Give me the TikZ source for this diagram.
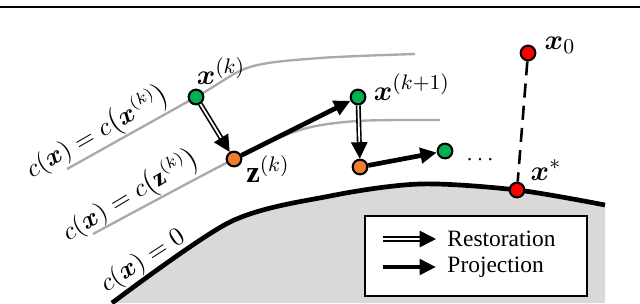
\documentclass[tikz,border=0pt]{standalone}
\usepackage{amsmath}
\usepackage{fontspec}
\setmainfont{Liberation Serif}
\usetikzlibrary{arrows.meta}
\definecolor{dotgreen}{RGB}{0,176,80}
\definecolor{dotorange}{RGB}{237,125,49}
\definecolor{dotred}{RGB}{255,0,0}
\definecolor{levelgray}{RGB}{170,170,170}
\definecolor{feasgray}{RGB}{217,217,217}
\tikzset{
  iter dot/.style={
    circle, draw=black, line width=0.9pt, inner sep=0pt, minimum size=2.2mm
  },
  green dot/.style={iter dot, fill=dotgreen},
  orange dot/.style={iter dot, fill=dotorange},
  red dot/.style={iter dot, fill=dotred},
  restoration/.style={
    draw=black, line width=0.7pt, double=white, double distance=0.75pt,
    -{Triangle[length=7pt,width=7pt]}
  },
  projection/.style={
    draw=black, line width=2pt, -{Triangle[length=7pt,width=6.5pt]}
  },
  level line/.style={draw=levelgray, line width=1pt},
  boundary/.style={draw=black, line width=2pt},
  dash link/.style={draw=black, line width=1.1pt, dash pattern=on 6pt off 3.5pt},
  point label/.style={font=\fontsize{13}{15}\selectfont, inner sep=1pt},
  level label/.style={font=\fontsize{10.5}{12}\selectfont, inner sep=0pt}
}

\begin{document}
\begin{tikzpicture}[x=0.15mm, y=-0.15mm]
  \useasboundingbox (0,0) rectangle (640,303);
  % header rule
  \draw[line width=1.1pt] (0,7) -- (640,7);

  % ------------------------------------------------
  % feasible set c(x) <= 0 and level lines
  % ------------------------------------------------
  \fill[feasgray] plot[smooth] coordinates {(112,303) (230,222) (330,196) (420,184) (517,190) (605,205)}
    -- (605,303) -- cycle;
  \draw[boundary] plot[smooth] coordinates {(112,303) (230,222) (330,196) (420,184) (517,190) (605,205)};
  \draw[level line] plot[smooth] coordinates {(67,169) (196,97) (250,67) (320,58) (415,54)};
  \draw[level line] plot[smooth] coordinates {(93,234) (234,159) (300,130) (357,121) (440,120)};

  \node[level label, rotate=30] (lvlXk) at (98,133) {$c(\boldsymbol{x}) = c\bigl(\boldsymbol{x}^{(k)}\bigr)$};
  \node[level label, rotate=31] (lvlZk) at (131,196) {$c(\boldsymbol{x}) = c\bigl(\mathbf{z}^{(k)}\bigr)$};
  \node[level label, rotate=33] (lvlZero) at (143,261) {$c(\boldsymbol{x}) = 0$};

  % ------------------------------------------------
  % iterates
  % ------------------------------------------------
  \node[red dot]    (x0)  at (528,53)  {};
  \node[red dot]    (xs)  at (517,190) {};
  \draw[dash link] (x0) -- (xs);

  \node[green dot]  (xk)  at (196,97)  {};
  \node[orange dot] (zk)  at (234,159) {};
  \node[green dot]  (xk1) at (358,97)  {};
  \node[orange dot] (zk1) at (360,167) {};
  \node[green dot]  (xk2) at (445,151) {};

  \draw[restoration] (xk)  -- (zk);
  \draw[projection]  (zk)  -- (xk1);
  \draw[restoration] (xk1) -- (zk1);
  \draw[projection]  (zk1) -- (xk2);

  \node[point label] (xkLab)  at (221,71)  {$\boldsymbol{x}^{(k)}$};
  \node[point label] (zkLab)  at (268,169) {$\mathbf{z}^{(k)}$};
  \node[point label] (xk1Lab) at (412,87)  {$\boldsymbol{x}^{(k+1)}$};
  \node[point label] (x0Lab)  at (560,45)  {$\boldsymbol{x}_0$};
  \node[point label] (xsLab)  at (546,170) {$\boldsymbol{x}^{*}$};
  \node (dots) at (482,160) {$\cdots$};

  % ------------------------------------------------
  % legend
  % ------------------------------------------------
  \node[draw=black, line width=1pt, fill=white, minimum width=3.33cm, minimum height=1.2cm] (legend) at (476,256) {};
  \coordinate (restA) at (383,239);
  \coordinate (restB) at (436,239);
  \coordinate (projA) at (383,267);
  \coordinate (projB) at (436,267);
  \draw[restoration] (restA) -- (restB);
  \draw[projection]  (projA) -- (projB);
  \node[anchor=west, inner sep=0pt] (restText) at (447,239) {Restoration};
  \node[anchor=west, inner sep=0pt] (projText) at (447,267) {Projection};
\end{tikzpicture}
\end{document}
